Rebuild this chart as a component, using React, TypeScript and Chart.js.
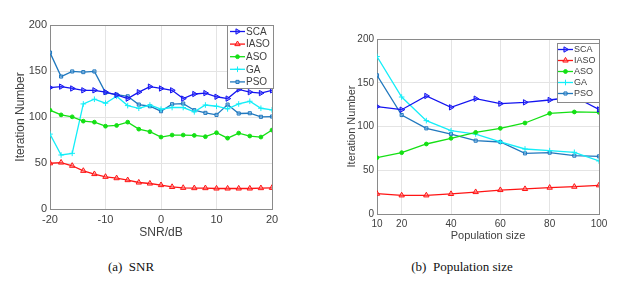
import React, { useEffect, useRef } from 'react';
import { Chart, registerables } from 'chart.js';
import { drawPoint } from 'chart.js/helpers';

Chart.register(...registerables);

// ---------- Data ----------
const seriesNames = ['SCA', 'IASO', 'ASO', 'GA', 'PSO'];

const snrValues = [-20, -18, -16, -14, -12, -10, -8, -6, -4, -2, 0, 2, 4, 6, 8, 10, 12, 14, 16, 18, 20];
const snrSCA = [132, 133, 131, 129, 129, 127, 124, 120, 127, 133, 131, 129, 120, 125, 126, 122, 120, 130, 127, 126, 129];
const snrIASO = [49.7, 50.5, 47, 41.5, 38, 35, 33.5, 31.4, 28.8, 27.7, 26, 24, 23, 22.7, 22.7, 22.3, 22.3, 22.3, 22.3, 22.7, 23];
const snrASO = [107.4, 102.3, 100.2, 95.5, 94.4, 90, 90.8, 94.4, 86.8, 84, 78.2, 80.4, 80.4, 80, 78.6, 82.9, 77, 82.5, 79.3, 78.2, 85.8];
const snrGA = [81.4, 58.7, 60.5, 114.2, 119.3, 115, 122.5, 112.4, 109.5, 113, 108.5, 110.3, 110.3, 105.6, 113, 111.7, 108.8, 114.2, 117.1, 109.5, 107.7];
const snrPSO = [170, 144, 149.5, 148.8, 149.5, 126.5, 124.3, 122.5, 113.5, 111.7, 106.3, 113.9, 114.6, 107.4, 104.5, 102.3, 113.5, 103.8, 104.1, 100.2, 100.5];

const popValues = [10, 20, 30, 40, 50, 60, 70, 80, 90, 100];
const popSCA = [122.7, 119.2, 134.9, 121.9, 131.8, 126.1, 127.6, 130.3, 134, 119.5];
const popIASO = [23.2, 21.3, 21.3, 22.9, 25.1, 27.4, 28.6, 30.1, 31.2, 32.8];
const popASO = [64.4, 70.1, 80, 86.5, 93.3, 97.9, 104, 115, 116.6, 116.2];
const popGA = [180, 133.7, 106.7, 95.2, 91.4, 82.3, 74.3, 72.4, 70.5, 60.6];
const popPSO = [158.5, 113.1, 97.9, 91.4, 83.8, 82.3, 69.3, 70.1, 66.7, 65.9];

const yTicks = [0, 50, 100, 150, 200];
const snrTicks = [-20, -10, 0, 10, 20];
const popTicks = [10, 20, 40, 60, 80, 100];

const yTitle = 'Iteration Number';
const snrTitle = 'SNR/dB';
const popTitle = 'Population size';
const captionA = '(a)  SNR';
const captionB = '(b)  Population size';

// ---------- Styles ----------
const seriesStyles = [
  { color: '#1414f0', pointStyle: 'triangle', rotation: 90, radius: 3.1, fill: 'rgba(70,70,255,0.45)' },
  { color: '#ff1414', pointStyle: 'triangle', rotation: 0, radius: 3.1, fill: 'rgba(255,130,130,0.45)' },
  { color: '#14e014', pointStyle: 'circle', rotation: 0, radius: 1.9, fill: '#14e014' },
  { color: '#14eef8', pointStyle: 'crossRot', rotation: 45, radius: 2.8, fill: '#14eef8' },
  { color: '#2078be', pointStyle: 'rect', rotation: 0, radius: 2.2, fill: 'rgba(140,190,235,0.5)' },
];

const FONT = "'Liberation Sans', Arial, Helvetica, sans-serif";
const TEXT = '#404040';
const SERIF = "'Liberation Serif', 'Times New Roman', 'DejaVu Serif', serif";

function buildDatasets(xs: number[], ys: number[][]) {
  return ys.map((arr, i) => {
    const s = seriesStyles[i];
    return {
      label: seriesNames[i],
      data: arr.map((v, j) => ({ x: xs[j], y: v })),
      borderColor: s.color,
      backgroundColor: s.fill,
      borderWidth: 1.3,
      pointStyle: s.pointStyle,
      pointRotation: s.rotation,
      pointRadius: s.radius,
      pointBorderWidth: 1,
      pointBorderColor: s.color,
      pointBackgroundColor: s.fill,
      tension: 0,
    };
  });
}

type PanelCfg = {
  xs: number[];
  ys: number[][];
  xMin: number;
  xMax: number;
  xTicks: number[];
  xTitle: string;
  fontSize: number;
  titleSize: number;
  legendSize: number;
  padLeft: number;
  padTop: number;
  padRight: number;
  padBottom: number;
  yWidth: number;
  xHeight: number;
  legend: { x: number; y: number; w: number; h: number; row0: number; gap: number; lineX: number; lineLen: number; textX: number };
};

const framePlugin = {
  id: 'frame',
  beforeDatasetsDraw(chart: any) {
    const { ctx, chartArea: a } = chart;
    ctx.save();
    ctx.strokeStyle = '#8a8a8a';
    ctx.lineWidth = 1;
    ctx.strokeRect(Math.round(a.left) + 0.5, Math.round(a.top) + 0.5, Math.round(a.right - a.left), Math.round(a.bottom - a.top));
    ctx.restore();
  },
};

function makeLegendPlugin(cfg: PanelCfg) {
  return {
    id: 'boxLegend',
    afterDraw(chart: any) {
      const { ctx } = chart;
      const L = cfg.legend;
      ctx.save();
      ctx.fillStyle = '#ffffff';
      ctx.fillRect(L.x, L.y, L.w, L.h);
      ctx.strokeStyle = '#8a8a8a';
      ctx.lineWidth = 1;
      ctx.strokeRect(L.x + 0.5, L.y + 0.5, L.w, L.h);
      ctx.font = `${cfg.legendSize}px ${FONT}`;
      ctx.textBaseline = 'middle';
      ctx.textAlign = 'left';
      chart.data.datasets.forEach((ds: any, i: number) => {
        const s = seriesStyles[i];
        const y = L.y + L.row0 + i * L.gap;
        ctx.strokeStyle = s.color;
        ctx.lineWidth = 1.3;
        ctx.beginPath();
        ctx.moveTo(L.x + L.lineX, y);
        ctx.lineTo(L.x + L.lineX + L.lineLen, y);
        ctx.stroke();
        ctx.fillStyle = s.fill;
        ctx.strokeStyle = s.color;
        ctx.lineWidth = 1;
        drawPoint(ctx, { pointStyle: s.pointStyle as any, rotation: s.rotation, radius: s.radius, borderWidth: 1 }, L.x + L.lineX + L.lineLen / 2, y);
        ctx.fillStyle = TEXT;
        ctx.fillText(ds.label, L.x + L.textX, y + 0.5);
      });
      ctx.restore();
    },
  };
}

function Panel({ cfg, width, height }: { cfg: PanelCfg; width: number; height: number }) {
  const ref = useRef<HTMLCanvasElement | null>(null);
  useEffect(() => {
    if (!ref.current) return;
    const font = { family: FONT, size: cfg.fontSize };
    const tfont = { family: FONT, size: cfg.titleSize };
    const chart = new Chart(ref.current, {
      type: 'line',
      data: { datasets: buildDatasets(cfg.xs, cfg.ys) as any },
      options: {
        animation: false,
        responsive: false,
        devicePixelRatio: 1,
        layout: { padding: { left: cfg.padLeft, top: cfg.padTop, right: cfg.padRight, bottom: cfg.padBottom } },
        plugins: { legend: { display: false }, tooltip: { enabled: false } },
        scales: {
          x: {
            type: 'linear',
            min: cfg.xMin,
            max: cfg.xMax,
            afterBuildTicks: (scale: any) => {
              scale.ticks = cfg.xTicks.map((v) => ({ value: v }));
            },
            afterFit: (scale: any) => {
              scale.height = cfg.xHeight;
            },
            grid: { color: '#e4e4e4', drawTicks: false, lineWidth: 1 },
            border: { display: false },
            ticks: { color: TEXT, font, padding: 4, maxRotation: 0, autoSkip: false },
            title: { display: true, text: cfg.xTitle, color: TEXT, font: tfont, padding: { top: 2, bottom: 4 } },
          },
          y: {
            type: 'linear',
            min: 0,
            max: 200,
            afterBuildTicks: (scale: any) => {
              scale.ticks = yTicks.map((v) => ({ value: v }));
            },
            afterFit: (scale: any) => {
              scale.width = cfg.yWidth;
            },
            grid: { color: '#e4e4e4', drawTicks: false, lineWidth: 1 },
            border: { display: false },
            ticks: { color: TEXT, font, padding: 3 },
            title: { display: true, text: yTitle, color: TEXT, font: tfont, padding: { top: 4, bottom: 2 } },
          },
        },
      },
      plugins: [framePlugin, makeLegendPlugin(cfg)],
    });
    return () => chart.destroy();
  }, [cfg]);
  return <canvas ref={ref} width={width} height={height} style={{ width, height, display: 'block' }} />;
}

const leftCfg: PanelCfg = {
  xs: snrValues,
  ys: [snrSCA, snrIASO, snrASO, snrGA, snrPSO],
  xMin: -20,
  xMax: 20,
  xTicks: snrTicks,
  xTitle: snrTitle,
  fontSize: 11,
  titleSize: 12,
  legendSize: 10,
  padLeft: 9,
  padTop: 25,
  padRight: 48,
  padBottom: 6,
  yWidth: 41,
  xHeight: 35,
  legend: { x: 227, y: 25, w: 46, h: 63, row0: 6.5, gap: 12.6, lineX: 3, lineLen: 15, textX: 19 },
};

const rightCfg: PanelCfg = {
  xs: popValues,
  ys: [popSCA, popIASO, popASO, popGA, popPSO],
  xMin: 10,
  xMax: 100,
  xTicks: popTicks,
  xTitle: popTitle,
  fontSize: 10,
  titleSize: 11,
  legendSize: 9,
  padLeft: 21,
  padTop: 39,
  padRight: 42,
  padBottom: 3,
  yWidth: 36,
  xHeight: 33,
  legend: { x: 237, y: 43, w: 42, h: 59, row0: 6.5, gap: 11, lineX: 1, lineLen: 15, textX: 17 },
};

export default function App() {
  return (
    <div style={{ position: 'fixed', left: 0, top: 0, width: 641, height: 286, background: '#ffffff', overflow: 'hidden' }}>
      <div style={{ position: 'absolute', left: 0, top: 0 }}>
        <Panel cfg={leftCfg} width={320} height={250} />
      </div>
      <div style={{ position: 'absolute', left: 320, top: 0 }}>
        <Panel cfg={rightCfg} width={321} height={250} />
      </div>
      <div style={{ position: 'absolute', left: 0, width: 262, top: 259, textAlign: 'center', fontFamily: SERIF, fontSize: 13, color: '#111', whiteSpace: 'pre' }}>
        {captionA}
      </div>
      <div style={{ position: 'absolute', left: 320, width: 284, top: 259, textAlign: 'center', fontFamily: SERIF, fontSize: 13, color: '#111', whiteSpace: 'pre' }}>
        {captionB}
      </div>
    </div>
  );
}
